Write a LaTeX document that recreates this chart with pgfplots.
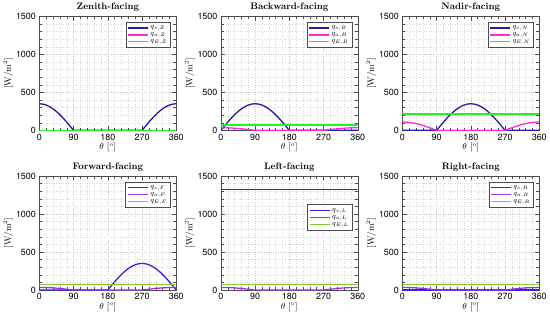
\documentclass[border=0pt]{standalone}
\usepackage{pgfplots}
\pgfplotsset{compat=1.18}
\usepgfplotslibrary{groupplots}
\usepackage{fontspec}
\newfontfamily\heros{TeX Gyre Heros}
\definecolor{qsA}{RGB}{30,30,160}
\definecolor{qaA}{RGB}{255,40,220}
\definecolor{qeA}{RGB}{40,240,40}
\definecolor{qsB}{RGB}{50,40,210}
\definecolor{qaB}{RGB}{160,50,230}
\definecolor{qeB}{RGB}{130,200,50}
\begin{document}
\begin{tikzpicture}
\begin{groupplot}[
  group style={group size=3 by 2, horizontal sep=45pt, vertical sep=46pt},
  scale only axis, width=138pt, height=115pt,
  xmin=0, xmax=360, ymin=0, ymax=1500,
  xtick={0,90,180,270,360}, ytick={0,500,1000,1500},
  minor x tick num=4, minor y tick num=4,
  grid=both,
  major grid style={gray!45, dotted, line width=0.4pt},
  minor grid style={gray!30, dotted, line width=0.3pt},
  tick style={black!70, line width=0.4pt},
  tick align=inside,
  axis line style={black!70, line width=0.5pt},
  /pgf/number format/assume math mode=true,
  /pgf/number format/1000 sep={},
  tick label style={font=\heros\fontsize{9}{10}\selectfont},
  xlabel={$\theta$ [$^\mathrm{o}$]}, ylabel={[W/m$^2$]},
  xlabel style={font=\fontsize{9}{10}\selectfont, yshift=4pt},
  ylabel style={font=\fontsize{9}{10}\selectfont, yshift=-4pt},
  title style={font=\bfseries\fontsize{9.5}{10}\selectfont, yshift=-5pt},
  legend style={at={(0.96,0.95)}, anchor=north east, font=\fontsize{7.5}{8}\selectfont,
    draw=black!70, line width=0.4pt, row sep=-1.5pt, inner sep=1.5pt, cells={anchor=west}},
  legend image code/.code={\draw[#1, line width=1.3pt] (0pt,0pt) -- (20pt,0pt);},
  legend cell align=left,
  every axis plot/.append style={line width=1.3pt},
]
% Zenith
\nextgroupplot[title={Zenith-facing}]
\addplot[qsA] coordinates {(0,350)(10,344.7)(20,328.9)(30,303.1)(40,268.1)(50,225.0)(60,175)(70,119.7)(80,60.8)(90,0)(270,0)(280,60.8)(290,119.7)(300,175)(310,225.0)(320,268.1)(330,303.1)(340,328.9)(350,344.7)(360,350)};
\addplot[qaA] coordinates {(0,0)(360,0)};
\addplot[qeA] coordinates {(0,0)(360,0)};
\legend{$q_{s,Z}$,$q_{a,Z}$,$q_{E,Z}$}
% Backward
\nextgroupplot[title={Backward-facing}]
\addplot[qsA] coordinates {(0,0)(10,60.8)(20,119.7)(30,175)(40,225.0)(50,268.1)(60,303.1)(70,328.9)(80,344.7)(90,350)(100,344.7)(110,328.9)(120,303.1)(130,268.1)(140,225.0)(150,175)(160,119.7)(170,60.8)(180,0)(360,0)};
\addplot[qaA] coordinates {(0,35)(10,34.5)(20,32.9)(30,30.3)(40,26.8)(50,22.5)(60,17.5)(70,12.0)(80,6.1)(90,0)(270,0)(280,6.1)(290,12.0)(300,17.5)(310,22.5)(320,26.8)(330,30.3)(340,32.9)(350,34.5)(360,35)};
\addplot[qeA] coordinates {(0,70)(360,70)};
\legend{$q_{s,B}$,$q_{a,B}$,$q_{E,B}$}
% Nadir
\nextgroupplot[title={Nadir-facing}]
\addplot[qsA] coordinates {(0,0)(90,0)(100,60.8)(110,119.7)(120,175)(130,225.0)(140,268.1)(150,303.1)(160,328.9)(170,344.7)(180,350)(190,344.7)(200,328.9)(210,303.1)(220,268.1)(230,225.0)(240,175)(250,119.7)(260,60.8)(270,0)(360,0)};
\addplot[qaA] coordinates {(0,110)(10,108.3)(20,103.4)(30,95.3)(40,84.3)(50,70.7)(60,55)(70,37.6)(80,19.1)(90,0)(270,0)(280,19.1)(290,37.6)(300,55)(310,70.7)(320,84.3)(330,95.3)(340,103.4)(350,108.3)(360,110)};
\addplot[qeA] coordinates {(0,215)(360,215)};
\legend{$q_{s,N}$,$q_{a,N}$,$q_{E,N}$}
% Forward
\nextgroupplot[title={Forward-facing}]
\addplot[qsB] coordinates {(0,0)(180,0)(190,60.8)(200,119.7)(210,175)(220,225.0)(230,268.1)(240,303.1)(250,328.9)(260,344.7)(270,350)(280,344.7)(290,328.9)(300,303.1)(310,268.1)(320,225.0)(330,175)(340,119.7)(350,60.8)(360,0)};
\addplot[qaB] coordinates {(0,35)(10,34.5)(20,32.9)(30,30.3)(40,26.8)(50,22.5)(60,17.5)(70,12.0)(80,6.1)(90,0)(270,0)(280,6.1)(290,12.0)(300,17.5)(310,22.5)(320,26.8)(330,30.3)(340,32.9)(350,34.5)(360,35)};
\addplot[qeB] coordinates {(0,70)(360,70)};
\legend{$q_{s,F}$,$q_{a,F}$,$q_{E,F}$}
% Left
\nextgroupplot[title={Left-facing}, legend style={at={(0.96,0.75)}}]
\addplot[qsB] coordinates {(0,1320)(360,1320)};
\addplot[qaB] coordinates {(0,35)(10,34.5)(20,32.9)(30,30.3)(40,26.8)(50,22.5)(60,17.5)(70,12.0)(80,6.1)(90,0)(270,0)(280,6.1)(290,12.0)(300,17.5)(310,22.5)(320,26.8)(330,30.3)(340,32.9)(350,34.5)(360,35)};
\addplot[qeB] coordinates {(0,70)(360,70)};
\legend{$q_{s,L}$,$q_{a,L}$,$q_{E,L}$}
% Right
\nextgroupplot[title={Right-facing}]
\addplot[qsB] coordinates {(0,0)(360,0)};
\addplot[qaB] coordinates {(0,35)(10,34.5)(20,32.9)(30,30.3)(40,26.8)(50,22.5)(60,17.5)(70,12.0)(80,6.1)(90,0)(270,0)(280,6.1)(290,12.0)(300,17.5)(310,22.5)(320,26.8)(330,30.3)(340,32.9)(350,34.5)(360,35)};
\addplot[qeB] coordinates {(0,70)(360,70)};
\legend{$q_{s,R}$,$q_{a,R}$,$q_{E,R}$}
\end{groupplot}
\end{tikzpicture}
\end{document}
